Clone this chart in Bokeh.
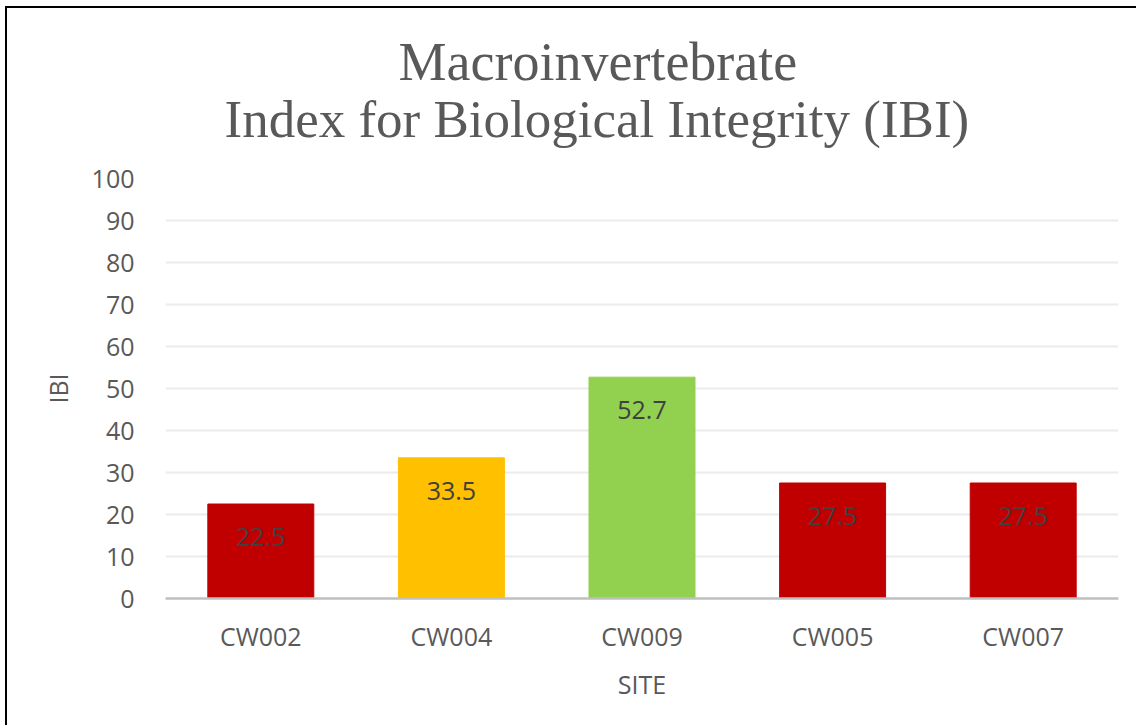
from bokeh.plotting import figure
from bokeh.models import ColumnDataSource, Title, FactorRange, FixedTicker
from bokeh.core.properties import value
from bokeh.embed import file_html
from bokeh.resources import INLINE

sites = ["CW002", "CW004", "CW009", "CW005", "CW007"]
ibi = [22.5, 33.5, 52.7, 27.5, 27.5]
colors = ["#C00000", "#FFC000", "#92D050", "#C00000", "#C00000"]
labels = ["22.5", "33.5", "52.7", "27.5", "27.5"]
y_ticks = [0, 10, 20, 30, 40, 50, 60, 70, 80, 90, 100]
title_lines = ["Macroinvertebrate", "Index for Biological Integrity (IBI)"]

src = ColumnDataSource(dict(site=sites, ibi=ibi, color=colors, label=labels))

p = figure(width=1131, height=719, output_backend="svg", toolbar_location=None,
           x_range=FactorRange(*sites, range_padding=0), y_range=(0, 100),
           min_border_left=158, min_border_right=20, min_border_top=170,
           min_border_bottom=129)
p.styles = {"margin-left": "7px", "margin-top": "8px",
            "box-shadow": "-2px -2px 0px 0px #000000"}
p.outline_line_color = None
p.background_fill_color = "white"
p.border_fill_color = "white"

p.vbar(x="site", top="ibi", width=0.556, source=src, fill_color="color",
       line_color="color", line_width=1)
p.text(x="site", y="ibi", text="label", source=src, text_align="center",
       text_baseline="middle", y_offset=33, text_color="#404040",
       text_font=value("Open Sans"), text_font_size="25px")

t2 = Title(text=title_lines[1], align="left", offset=59, standoff=62,
           vertical_align="bottom", text_font="Liberation Serif",
           text_font_size="53px", text_color="#595959", text_font_style="normal")
t1 = Title(text=title_lines[0], align="left", offset=233, standoff=-70,
           vertical_align="bottom", text_font="Liberation Serif",
           text_font_size="54px", text_color="#595959", text_font_style="normal")
p.add_layout(t2, "above")
p.add_layout(t1, "above")

p.yaxis.ticker = FixedTicker(ticks=y_ticks)
p.yaxis.axis_line_color = None
p.yaxis.major_tick_line_color = None
p.yaxis.minor_tick_line_color = None
p.yaxis.major_tick_out = 0
p.yaxis.major_label_standoff = 31
p.yaxis.major_label_text_font = "Open Sans"
p.yaxis.major_label_text_font_size = "25px"
p.yaxis.major_label_text_color = "#595959"
p.yaxis.axis_label = "IBI"
p.yaxis.axis_label_text_font = "Open Sans"
p.yaxis.axis_label_text_font_size = "25px"
p.yaxis.axis_label_text_font_style = "normal"
p.yaxis.axis_label_text_color = "#595959"
p.yaxis.axis_label_standoff = 14

p.xaxis.axis_line_color = "#BFBFBF"
p.xaxis.axis_line_width = 2.5
p.xaxis.major_tick_line_color = None
p.xaxis.major_tick_out = 0
p.xaxis.major_label_standoff = 20
p.xaxis.major_label_text_font = "Open Sans"
p.xaxis.major_label_text_font_size = "25px"
p.xaxis.major_label_text_color = "#595959"
p.xaxis.axis_label = "SITE"
p.xaxis.axis_label_text_font = "Open Sans"
p.xaxis.axis_label_text_font_size = "25px"
p.xaxis.axis_label_text_font_style = "normal"
p.xaxis.axis_label_text_color = "#595959"
p.xaxis.axis_label_standoff = 11

p.xgrid.grid_line_color = None
p.ygrid.ticker = FixedTicker(ticks=y_ticks)
p.ygrid.grid_line_color = "#EBEBEB"
p.ygrid.grid_line_width = 2

open("out.html", "w").write(file_html(p, INLINE))
